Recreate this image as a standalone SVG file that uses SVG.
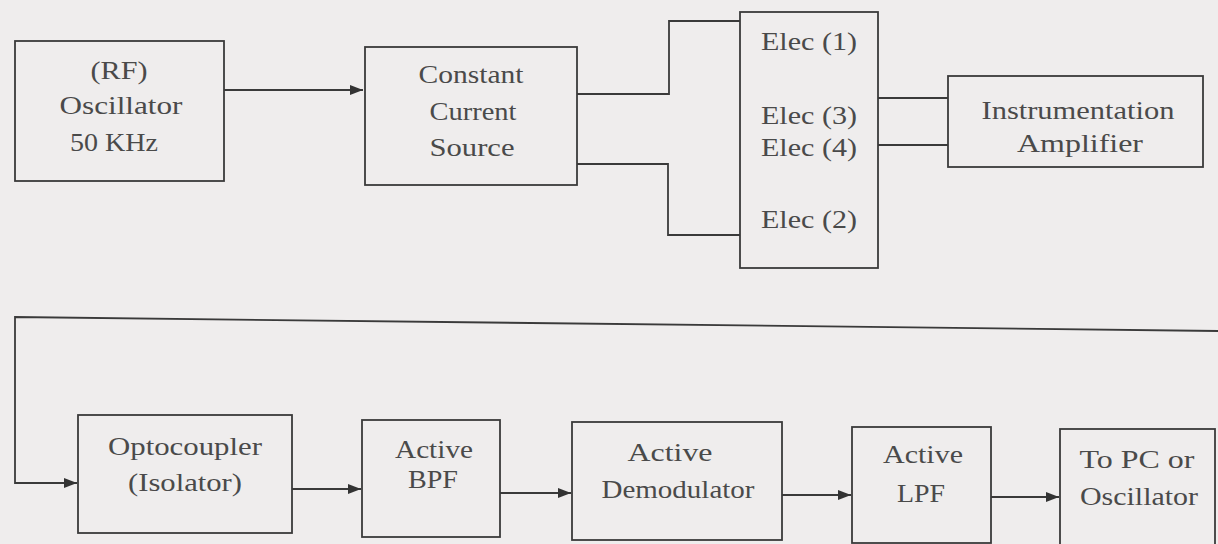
<svg xmlns="http://www.w3.org/2000/svg" width="1218" height="544" viewBox="0 0 1218 544">
<defs>
<marker id="arr" markerUnits="userSpaceOnUse" markerWidth="14" markerHeight="12" refX="13" refY="6" orient="auto">
<path d="M0,1 L13,6 L0,11 Z" fill="#333"/>
</marker>
<style>
.box{fill:none;stroke:#3a3a3a;stroke-width:1.8}
.ln{fill:none;stroke:#3a3a3a;stroke-width:1.8}
.t{font-family:"Liberation Serif","Times New Roman",serif;font-size:25px;fill:#4a4a4a;text-anchor:middle}
.tl{font-family:"Liberation Serif","Times New Roman",serif;font-size:25px;fill:#4a4a4a;text-anchor:start}
</style>
</defs>
<rect width="1218" height="544" fill="#efeded"/>
<g id="connectors">
<line class="ln" x1="224" y1="90" x2="363" y2="90" marker-end="url(#arr)"/>
<polyline class="ln" points="577,94 669,94 669,21 740,21"/>
<polyline class="ln" points="577,164 668,164 668,235 740,235"/>
<line class="ln" x1="878" y1="98" x2="948" y2="98"/>
<line class="ln" x1="878" y1="145" x2="948" y2="145"/>
<polyline class="ln" points="1218,331 15,317 15,483 77,483" marker-end="url(#arr)"/>
<line class="ln" x1="292" y1="489" x2="361" y2="489" marker-end="url(#arr)"/>
<line class="ln" x1="500" y1="493" x2="571" y2="493" marker-end="url(#arr)"/>
<line class="ln" x1="782" y1="495" x2="851" y2="495" marker-end="url(#arr)"/>
<line class="ln" x1="991" y1="497" x2="1059" y2="497" marker-end="url(#arr)"/>
</g>
<g id="rf-oscillator">
<rect class="box" x="15" y="41" width="209" height="140"/>
<text class="t" x="119" y="79" textLength="57" lengthAdjust="spacingAndGlyphs">(RF)</text>
<text class="t" x="121" y="114" textLength="123" lengthAdjust="spacingAndGlyphs">Oscillator</text>
<text class="t" x="114" y="151" textLength="88" lengthAdjust="spacingAndGlyphs">50 KHz</text>
</g>
<g id="constant-current-source">
<rect class="box" x="365" y="47" width="212" height="138"/>
<text class="t" x="471" y="83" textLength="105" lengthAdjust="spacingAndGlyphs">Constant</text>
<text class="t" x="473" y="120" textLength="87" lengthAdjust="spacingAndGlyphs">Current</text>
<text class="t" x="472" y="156" textLength="85" lengthAdjust="spacingAndGlyphs">Source</text>
</g>
<g id="electrodes">
<rect class="box" x="740" y="12" width="138" height="256"/>
<text class="tl" x="761" y="50" textLength="96" lengthAdjust="spacingAndGlyphs">Elec (1)</text>
<text class="tl" x="761" y="124" textLength="96" lengthAdjust="spacingAndGlyphs">Elec (3)</text>
<text class="tl" x="761" y="156" textLength="96" lengthAdjust="spacingAndGlyphs">Elec (4)</text>
<text class="tl" x="761" y="228" textLength="96" lengthAdjust="spacingAndGlyphs">Elec (2)</text>
</g>
<g id="instrumentation-amplifier">
<rect class="box" x="948" y="76" width="255" height="91"/>
<text class="t" x="1078" y="119" textLength="193" lengthAdjust="spacingAndGlyphs">Instrumentation</text>
<text class="t" x="1080" y="152" textLength="126" lengthAdjust="spacingAndGlyphs">Amplifier</text>
</g>
<g id="optocoupler">
<rect class="box" x="78" y="415" width="214" height="118"/>
<text class="t" x="185" y="455" textLength="154" lengthAdjust="spacingAndGlyphs">Optocoupler</text>
<text class="t" x="185" y="491" textLength="114" lengthAdjust="spacingAndGlyphs">(Isolator)</text>
</g>
<g id="active-bpf">
<rect class="box" x="362" y="420" width="138" height="117"/>
<text class="t" x="434" y="458" textLength="78" lengthAdjust="spacingAndGlyphs">Active</text>
<text class="t" x="433" y="488" textLength="50" lengthAdjust="spacingAndGlyphs">BPF</text>
</g>
<g id="active-demodulator">
<rect class="box" x="572" y="422" width="210" height="118"/>
<text class="t" x="670" y="461" textLength="85" lengthAdjust="spacingAndGlyphs">Active</text>
<text class="t" x="678" y="498" textLength="153" lengthAdjust="spacingAndGlyphs">Demodulator</text>
</g>
<g id="active-lpf">
<rect class="box" x="852" y="427" width="139" height="116"/>
<text class="t" x="923" y="463" textLength="80" lengthAdjust="spacingAndGlyphs">Active</text>
<text class="t" x="921" y="502" textLength="48" lengthAdjust="spacingAndGlyphs">LPF</text>
</g>
<g id="to-pc">
<rect class="box" x="1060" y="429" width="155" height="120"/>
<text class="t" x="1137" y="468" textLength="115" lengthAdjust="spacingAndGlyphs">To PC or</text>
<text class="t" x="1139" y="505" textLength="118" lengthAdjust="spacingAndGlyphs">Oscillator</text>
</g>
</svg>
